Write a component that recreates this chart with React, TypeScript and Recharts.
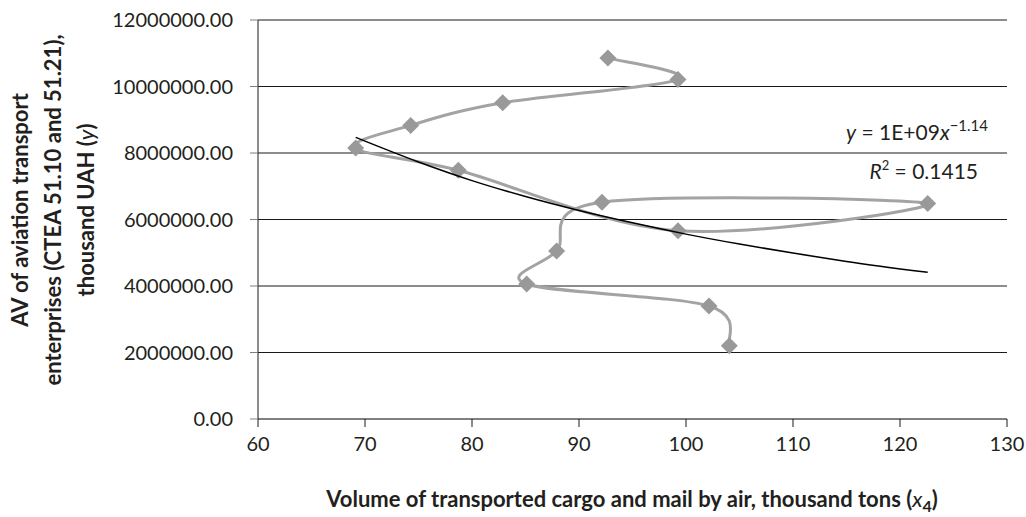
import React from 'react';
import { ScatterChart, Scatter, XAxis, YAxis, CartesianGrid } from 'recharts';

// Volume of cargo and mail (x4) vs AV of aviation enterprises (y), in plotted order
const cargo = [104.05, 102.15, 85.11, 87.91, 92.15, 122.59, 99.25, 78.72, 69.13, 74.27, 82.87, 99.25, 92.7];
const av = [2200000, 3400000, 4060000, 5050000, 6520000, 6480000, 5660000, 7480000, 8150000, 8830000, 9510000, 10210000, 10860000];

// power trendline
const trendX = [69.13, 75, 80, 85, 90, 95, 100, 105, 110, 115, 122.59];
const trendY = [8470000, 7730000, 7170000, 6690000, 6270000, 5900000, 5560000, 5260000, 4990000, 4740000, 4410000];

const xTicks = [60, 70, 80, 90, 100, 110, 120, 130];
const yTicks = [0, 2000000, 4000000, 6000000, 8000000, 10000000, 12000000];

const points = cargo.map((x, i) => ({ x, y: av[i] }));
const trend = trendX.map((x, i) => ({ x, y: trendY[i] }));

const FONT = 'Lato, sans-serif';
const TEXT = '#231f20';

// Excel-like smoothed line (uniform Catmull-Rom through the points)
const smoothCurve: any = (context: any) => {
  let pts: number[][] = [];
  return {
    areaStart() {},
    areaEnd() {},
    lineStart() {
      pts = [];
    },
    point(x: number, y: number) {
      pts.push([+x, +y]);
    },
    lineEnd() {
      if (!pts.length) return;
      context.moveTo(pts[0][0], pts[0][1]);
      for (let i = 0; i < pts.length - 1; i++) {
        const p0 = pts[i - 1] || pts[i];
        const p1 = pts[i];
        const p2 = pts[i + 1];
        const p3 = pts[i + 2] || p2;
        context.bezierCurveTo(
          p1[0] + (p2[0] - p0[0]) / 6,
          p1[1] + (p2[1] - p0[1]) / 6,
          p2[0] - (p3[0] - p1[0]) / 6,
          p2[1] - (p3[1] - p1[1]) / 6,
          p2[0],
          p2[1]
        );
      }
    },
  };
};

const Diamond = (props: any) => {
  const { cx, cy } = props;
  const r = 8.5;
  return (
    <polygon
      points={`${cx},${cy - r} ${cx + r},${cy} ${cx},${cy + r} ${cx - r},${cy}`}
      fill="#999999"
    />
  );
};

const NoDot = () => <g />;

export default function App() {
  return (
    <div style={{ width: 1026, height: 517 }}>
      <style>{'body{margin:0}'}</style>
      <ScatterChart width={1026} height={517} margin={{ top: 20, right: 19, left: 0, bottom: 0 }}>
        <CartesianGrid vertical={false} stroke="#1a1a1a" strokeOpacity={1} />
        <XAxis
          type="number"
          dataKey="x"
          domain={[60, 130]}
          ticks={xTicks}
          height={98}
          tickSize={8}
          tickMargin={10}
          axisLine={{ stroke: '#7f7f7f', strokeWidth: 2 }}
          tickLine={{ stroke: '#1a1a1a' }}
          tick={{ fill: TEXT, fontSize: 20, fontFamily: FONT }}
        />
        <YAxis
          type="number"
          dataKey="y"
          domain={[0, 12000000]}
          ticks={yTicks}
          width={258}
          tickSize={8}
          tickMargin={17}
          axisLine={{ stroke: '#1a1a1a' }}
          tickLine={{ stroke: '#7f7f7f' }}
          tickFormatter={(v: number) => v.toFixed(2)}
          tick={{ fill: TEXT, fontSize: 20, fontFamily: FONT }}
        />
        <Scatter
          data={points}
          line={{ stroke: '#a3a3a3', strokeWidth: 3 }}
          lineJointType={smoothCurve}
          shape={<Diamond />}
          isAnimationActive={false}
        />
        <Scatter
          data={trend}
          line={{ stroke: '#000000', strokeWidth: 1.5 }}
          lineJointType="monotoneX"
          shape={<NoDot />}
          isAnimationActive={false}
        />
        <text x={988} y={140} textAnchor="end" fontSize={21} fontFamily={FONT} fill={TEXT}>
          <tspan fontStyle="italic">y</tspan>
          <tspan> = 1E+09</tspan>
          <tspan fontStyle="italic">x</tspan>
          <tspan dy={-9} fontSize={15}>−1.14</tspan>
        </text>
        <text x={978} y={179} textAnchor="end" fontSize={21} fontFamily={FONT} fill={TEXT}>
          <tspan fontStyle="italic">R</tspan>
          <tspan dy={-9} fontSize={13}>2</tspan>
          <tspan dy={9}> = 0.1415</tspan>
        </text>
        <text x={632} y={507} textAnchor="middle" fontSize={22} fontWeight="bold" fontFamily={FONT} fill={TEXT}>
          <tspan>Volume of transported cargo and mail by air, thousand tons (</tspan>
          <tspan fontStyle="italic" fontWeight="normal">x</tspan>
          <tspan dy={5} fontSize={16}>4</tspan>
          <tspan dy={-5}>)</tspan>
        </text>
        <g transform="translate(0,210) rotate(-90)" fontSize={22} fontWeight="bold" fontFamily={FONT} fill={TEXT}>
          <text x={0} y={28} textAnchor="middle">AV of aviation transport</text>
          <text x={0} y={61} textAnchor="middle">enterprises  (CTEA 51.10 and 51.21),</text>
          <text x={0} y={94} textAnchor="middle">
            <tspan>thousand UAH (</tspan>
            <tspan fontStyle="italic" fontWeight="normal">y</tspan>
            <tspan>)</tspan>
          </text>
        </g>
      </ScatterChart>
    </div>
  );
}
